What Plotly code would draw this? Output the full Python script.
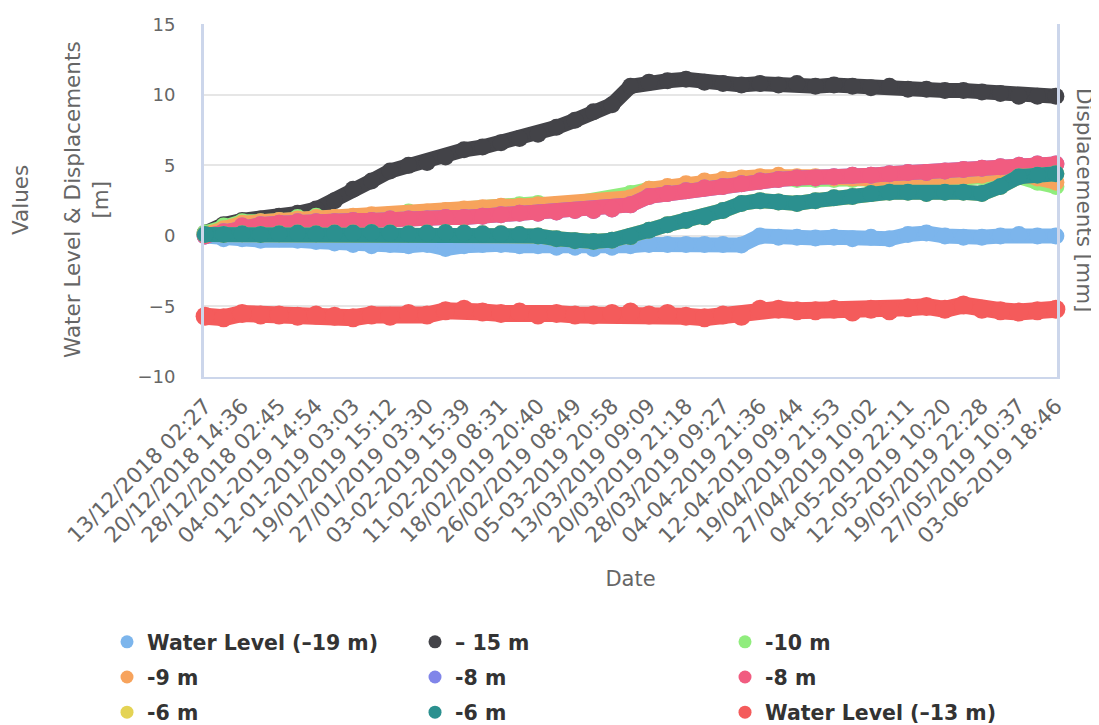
import plotly.graph_objects as go

date_labels = [
    "13/12/2018 02:27", "20/12/2018 14:36", "28/12/2018 02:45", "04-01-2019 14:54",
    "12-01-2019 03:03", "19/01/2019 15:12", "27/01/2019 03:30", "03-02-2019 15:39",
    "11-02-2019 08:31", "18/02/2019 20:40", "26/02/2019 08:49", "05-03-2019 20:58",
    "13/03/2019 09:09", "20/03/2019 21:18", "28/03/2019 09:27", "04-04-2019 21:36",
    "12-04-2019 09:44", "19/04/2019 21:53", "27/04/2019 10:02", "04-05-2019 22:11",
    "12-05-2019 10:20", "19/05/2019 22:28", "27/05/2019 10:37", "03-06-2019 18:46",
]

# one sample every half label interval
wl19 = [0.0, -0.2, -0.2, -0.3, -0.2, -0.3, -0.4, -0.5, -0.6, -0.7, -0.6, -0.7, -0.6, -0.9, -0.7, -0.6,
        -0.6, -0.7, -0.7, -0.8, -0.8, -0.9, -0.8, -0.7, -0.6, -0.6, -0.6, -0.6, -0.6, -0.65, 0.0, -0.1,
        -0.1, -0.15, -0.1, -0.2, -0.1, -0.2, 0.1, 0.2, 0.0, -0.1, -0.1, 0.0, 0.1, 0.0, 0.0]
m15 = [0.2, 0.8, 1.1, 1.2, 1.4, 1.6, 1.9, 2.5, 3.3, 3.9, 4.6, 5.0, 5.2, 5.6, 6.1, 6.3,
       6.6, 6.9, 7.2, 7.7, 8.2, 8.8, 9.3, 10.6, 10.9, 11.0, 11.1, 10.9, 10.8, 10.7, 10.8, 10.7,
       10.8, 10.6, 10.7, 10.6, 10.5, 10.6, 10.4, 10.4, 10.3, 10.3, 10.2, 10.1, 9.9, 9.9, 9.9]
m10 = [0.2, 0.7, 1.0, 1.0, 1.1, 1.3, 1.4, 1.3, 1.3, 1.4, 1.5, 1.7, 1.6, 1.7, 1.8, 1.9,
       2.0, 2.2, 2.3, 2.1, 2.3, 2.4, 2.6, 3.0, 3.3, 3.4, 3.6, 3.8, 3.9, 4.0, 4.1, 4.1,
       4.0, 4.0, 4.0, 4.0, 3.9, 3.9, 3.9, 3.9, 4.0, 4.1, 4.2, 4.3, 4.2, 3.8, 3.5]
m9 = [0.1, 0.5, 0.9, 1.0, 1.1, 1.2, 1.3, 1.3, 1.4, 1.5, 1.5, 1.6, 1.7, 1.8, 1.9, 2.0,
      2.1, 2.1, 2.2, 2.2, 2.2, 2.3, 2.4, 2.7, 3.3, 3.5, 3.7, 3.9, 4.0, 4.1, 4.2, 4.3,
      4.2, 4.2, 4.1, 4.1, 4.1, 4.0, 4.0, 4.0, 4.1, 4.2, 4.3, 4.5, 4.4, 4.1, 3.8]
m8a = [0.0, 0.3, 0.7, 0.8, 0.9, 1.0, 1.0, 1.0, 1.1, 1.1, 1.2, 1.2, 1.2, 1.3, 1.3, 1.4,
       1.5, 1.6, 1.6, 1.7, 1.8, 1.8, 1.9, 2.2, 2.8, 3.0, 3.2, 3.4, 3.5, 3.7, 3.9, 4.0,
       4.1, 4.1, 4.2, 4.3, 4.3, 4.4, 4.5, 4.5, 4.6, 4.7, 4.8, 4.9, 5.0, 5.1, 5.1]
m8b = [0.0, 0.3, 0.7, 0.8, 0.9, 1.0, 1.0, 1.0, 1.1, 1.1, 1.2, 1.2, 1.2, 1.3, 1.3, 1.4,
       1.5, 1.6, 1.6, 1.7, 1.8, 1.8, 1.9, 2.2, 2.8, 3.0, 3.2, 3.4, 3.5, 3.7, 3.9, 4.0,
       4.1, 4.1, 4.2, 4.3, 4.3, 4.4, 4.5, 4.5, 4.6, 4.7, 4.8, 4.9, 5.0, 5.1, 5.1]
m6a = [0.1, 0.1, 0.15, 0.1, 0.15, 0.2, 0.15, 0.2, 0.2, 0.25, 0.2, 0.15, 0.2, 0.25, 0.2, 0.15,
       0.15, 0.1, 0.0, -0.2, -0.35, -0.4, -0.3, -0.05, 0.4, 0.8, 1.1, 1.35, 1.8, 2.3, 2.5, 2.4,
       2.3, 2.5, 2.7, 2.8, 3.0, 3.1, 3.1, 3.0, 3.1, 3.1, 3.0, 3.5, 4.2, 4.3, 4.4]
m6b = [0.1, 0.1, 0.15, 0.1, 0.15, 0.2, 0.15, 0.2, 0.2, 0.25, 0.2, 0.15, 0.2, 0.25, 0.2, 0.15,
       0.15, 0.1, 0.0, -0.2, -0.35, -0.4, -0.3, -0.05, 0.4, 0.8, 1.1, 1.35, 1.8, 2.3, 2.5, 2.4,
       2.3, 2.5, 2.7, 2.8, 3.0, 3.1, 3.1, 3.0, 3.1, 3.1, 3.0, 3.5, 4.2, 4.3, 4.4]
wl13 = [-5.7, -5.8, -5.5, -5.6, -5.6, -5.7, -5.6, -5.7, -5.8, -5.6, -5.7, -5.5, -5.6, -5.3, -5.2, -5.4,
        -5.5, -5.4, -5.6, -5.5, -5.6, -5.6, -5.5, -5.4, -5.6, -5.5, -5.7, -5.8, -5.6, -5.7, -5.2, -5.2,
        -5.3, -5.3, -5.2, -5.4, -5.2, -5.3, -5.1, -5.0, -5.2, -4.9, -5.2, -5.3, -5.4, -5.3, -5.2]

series = [
    ("Water Level (–19 m)", wl19, "#7cb5ec", "legend"),
    ("– 15 m", m15, "#434348", "legend2"),
    ("-10 m", m10, "#90ed7d", "legend3"),
    ("-9 m", m9, "#f7a35c", "legend"),
    ("-8 m", m8a, "#8085e9", "legend2"),
    ("-8 m", m8b, "#f15c80", "legend3"),
    ("-6 m", m6a, "#e4d354", "legend"),
    ("-6 m", m6b, "#2b908f", "legend2"),
    ("Water Level (–13 m)", wl13, "#f45b5b", "legend3"),
]

samples = list(range(len(wl19)))
tick_samples = samples[::2]

fig = go.Figure()
for k, (name, vals, color, leg) in enumerate(series):
    w = 17 if name.startswith("Water Level (–13") else 15
    fig.add_trace(go.Scatter(
        x=samples, y=vals, mode="lines+markers", name=name,
        line=dict(color=color, width=w),
        marker=dict(color=color, size=w + 2, line=dict(width=0)),
        cliponaxis=False, showlegend=False, legendgroup=f"g{k}",
    ))
for k, (name, vals, color, leg) in enumerate(series):
    fig.add_trace(go.Scatter(
        x=[None], y=[None], mode="markers", name=name,
        marker=dict(color=color, size=13), legend=leg, legendgroup=f"g{k}",
        showlegend=True,
    ))

# page geometry (px)
L, T, PW, PH = 196, 16, 853, 353
W, H = 1099, 725


def px(x):
    return (x - L) / PW


def py(y):
    return (T + PH - y) / PH


grey = "#666666"
legend_common = dict(
    orientation="v", xref="container", yref="container", yanchor="top", xanchor="left",
    y=1 - 614 / H, traceorder="grouped", tracegroupgap=5.5,
    font=dict(family="DejaVu Sans", size=20.5, color="#333333", weight="bold"),
    bgcolor="rgba(0,0,0,0)", itemclick=False,
)

fig.update_layout(
    width=W, height=H,
    margin=dict(l=L, r=W - L - PW, t=T, b=H - T - PH, autoexpand=False),
    paper_bgcolor="white", plot_bgcolor="white",
    showlegend=True,
    legend=dict(x=99 / W, **legend_common),
    legend2=dict(x=407 / W, **legend_common),
    legend3=dict(x=717 / W, **legend_common),
    xaxis=dict(
        range=[-0.06, len(wl19) - 1 + 0.06],
        tickmode="array", tickvals=tick_samples, ticktext=date_labels,
        tickangle=-45, tickfont=dict(family="DejaVu Sans", size=21.5, color=grey),
        showgrid=False, zeroline=False, showline=True, linecolor="#ccd6eb", linewidth=2,
        ticks="", automargin=False, ticklabelstandoff=6,
        title=dict(text="Date", font=dict(family="DejaVu Sans", size=21, color=grey), standoff=24),
    ),
    yaxis=dict(
        range=[-10, 15.02], tickvals=[-10, -5, 0, 5, 10, 15],
        tickfont=dict(family="DejaVu Sans", size=18, color=grey),
        showgrid=True, gridcolor="#e6e6e6", gridwidth=2, zeroline=False,
        showline=True, linecolor="#ccd6eb", linewidth=3, mirror=True,
        ticks="", ticklabelstandoff=22, automargin=False,
    ),
    annotations=[
        dict(text="Values", xref="paper", yref="paper", x=px(12), y=py(192),
             xanchor="center", yanchor="middle",
             textangle=-90, showarrow=False, font=dict(family="DejaVu Sans", size=21.5, color=grey)),
        dict(text="Water Level & Displacements<br>[m]", xref="paper", yref="paper",
             x=px(78), y=py(192), xanchor="center", yanchor="middle", textangle=-90, showarrow=False,
             font=dict(family="DejaVu Sans", size=21.5, color=grey)),
        dict(text="Displacements [mm]", xref="paper", yref="paper",
             x=px(1077), y=py(192), xanchor="center", yanchor="middle", textangle=90, showarrow=False,
             font=dict(family="DejaVu Sans", size=21.5, color=grey)),
    ],
)

fig.write_html("out.html")
